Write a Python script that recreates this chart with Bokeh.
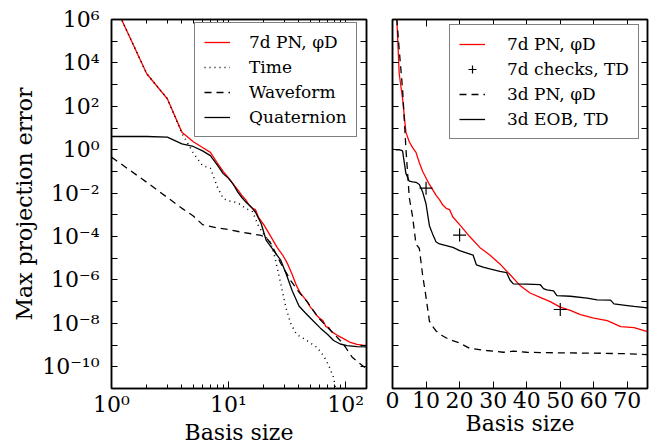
from bokeh.plotting import figure
from bokeh.models import (Range1d, FixedTicker, CustomJSTickFormatter, LogAxis,
                          LinearAxis, Legend, LegendItem)
from bokeh.core.properties import value
from bokeh.layouts import row
from bokeh.embed import file_html
from bokeh.resources import INLINE

# ---------------- data (log10 of the max projection error) ----------------
# 7d PN, phiD (shared by both panels)
x_7d = [1, 2, 3, 4, 5, 6, 7, 8, 9, 10, 11, 12, 13, 14, 15, 16, 17, 18, 20, 23,
        26, 29, 32, 35, 38, 41, 44, 47, 50, 53, 56, 60, 64, 68, 72, 76, 85, 96,
        110, 125, 140, 155]
log_7d = [7.0, 3.5, 2.35, 0.8, 0.37, 0.1, -0.12, -0.6, -1.0, -1.3, -1.6, -1.85,
          -2.1, -2.3, -2.55, -2.7, -2.76, -3.1, -3.45, -4.0, -4.5, -4.85, -5.26,
          -5.75, -6.25, -6.6, -6.8, -7.0, -7.25, -7.4, -7.6, -7.76, -7.87, -8.15,
          -8.2, -8.38, -8.55, -8.7, -8.88, -8.97, -9.0, -9.02]

# Time (left panel, dotted)
x_time = [1, 2, 3, 4, 5, 6, 7, 8, 9, 10, 12, 14, 16, 18, 20, 23, 25, 28, 31, 34,
          38, 47, 57, 65, 72, 79, 84]
log_time = [7.0, 3.5, 2.35, 0.75, -0.15, -0.73, -0.85, -1.7, -2.25, -2.35, -2.45,
            -2.7, -2.85, -3.5, -3.9, -4.3, -5.0, -6.2, -7.3, -8.0, -8.5, -8.8,
            -9.1, -9.5, -9.95, -10.5, -11.3]

# Waveform (left panel, dashed)
x_wave = [1, 2, 3, 4, 5, 6, 8, 10, 13, 16, 19, 21, 23, 26, 28, 31, 34, 38, 41,
          47, 53, 60, 70, 80, 90, 100, 114, 139, 155]
log_wave = [-0.34, -1.5, -2.2, -2.7, -3.05, -3.45, -3.6, -3.68, -3.8, -3.88,
            -3.95, -4.05, -4.32, -4.9, -5.24, -5.65, -6.03, -6.4, -6.63, -7.0,
            -7.41, -7.8, -8.18, -8.5, -8.79, -9.1, -9.56, -9.94, -10.15]

# Quaternion (left panel, solid)
x_quat = [1, 2, 3, 4, 5, 6, 7, 8, 9, 10, 11, 12, 13, 14, 16, 17, 19, 21, 24, 28,
          31, 35, 40, 45, 50, 61, 70, 79, 90, 103, 125, 155]
log_quat = [0.61, 0.61, 0.58, 0.27, 0.15, -0.05, -0.27, -0.7, -1.1, -1.32, -1.6,
            -1.95, -2.2, -2.4, -2.7, -2.88, -3.4, -4.18, -4.6, -5.1, -5.7, -6.5,
            -7.2, -7.5, -7.75, -8.22, -8.5, -8.79, -8.95, -9.02, -9.07, -9.08]

# 7d checks, TD (right panel, crosses)
x_chk = [10, 20, 50]
log_chk = [-1.77, -3.93, -7.36]

# 3d PN, phiD (right panel, dashed)
x_3pn = [1, 2, 3, 4, 5, 6, 7, 8, 9, 10, 11, 12, 13, 15, 17, 20, 23, 28, 33, 36,
         40, 50, 60, 70, 76]
log_3pn = [6.6, 4.6, 2.8, 0.05, -2.2, -3.1, -4.35, -4.55, -5.8, -6.8, -7.9,
           -8.15, -8.35, -8.58, -8.75, -8.9, -9.15, -9.25, -9.33, -9.28, -9.33,
           -9.36, -9.37, -9.4, -9.44]

# 3d EOB, TD (right panel, solid)
x_eob = [1, 2, 3, 4, 5, 6, 7, 8, 9, 10, 11, 12, 13, 14, 16, 18, 20, 22, 24, 25,
         27, 29, 32, 34, 35, 36, 40, 44, 45, 46, 48, 49, 53, 58, 61, 65, 66, 70,
         72, 76]
log_eob = [0.0, 0.0, -0.05, -1.1, -1.45, -1.48, -1.5, -1.6, -1.95, -2.5, -3.5,
           -3.9, -4.25, -4.34, -4.42, -4.5, -4.65, -4.75, -4.85, -5.3, -5.41,
           -5.49, -5.6, -5.66, -6.0, -6.18, -6.19, -6.21, -6.4, -6.46, -6.5,
           -6.72, -6.75, -6.84, -6.92, -6.93, -7.1, -7.18, -7.22, -7.29]

y_decades = list(range(-11, 7))
x_major_left = [1, 10, 100]
x_minor_left = [2, 3, 4, 5, 6, 7, 8, 9, 20, 30, 40, 50, 60, 70, 80, 90]
x_major_right = [0, 10, 20, 30, 40, 50, 60, 70]


def pw(v):
    return [10.0 ** a for a in v]


FONT = "DejaVu Serif"
SUP = """
const sup = {'0':'\u2070','1':'\u00b9','2':'\u00b2','3':'\u00b3','4':'\u2074',
             '5':'\u2075','6':'\u2076','7':'\u2077','8':'\u2078','9':'\u2079','-':'\u207b'};
const e = Math.round(Math.log10(tick));
%s
return '10' + String(e).split('').map(c => sup[c]).join('');
"""
fmt_y = CustomJSTickFormatter(code=SUP % "if (e % 2 != 0) { return ''; }")
fmt_x = CustomJSTickFormatter(code=SUP % "")
blank = CustomJSTickFormatter(code="return '';")

H = 448


def style_axis(ax, major_in, minor_in=0, labels=True, standoff=6):
    ax.axis_line_width = 1.5
    ax.axis_line_color = "black"
    ax.major_tick_in = major_in
    ax.major_tick_out = 0
    ax.minor_tick_in = minor_in
    ax.minor_tick_out = 0
    ax.major_tick_line_color = "black"
    ax.minor_tick_line_color = "black"
    ax.major_label_text_font = FONT
    ax.major_label_text_font_size = "22px"
    ax.major_label_text_color = "black"
    ax.axis_label_text_font = FONT
    ax.axis_label_text_font_size = "22px"
    ax.axis_label_text_font_style = "normal"
    ax.axis_label_text_color = "black"
    if labels:
        ax.major_label_standoff = standoff
    else:
        ax.formatter = blank
        ax.major_label_standoff = 0
        ax.axis_label_standoff = 0
        ax.major_label_text_font_size = "0px"


def base_fig(width, x_range, x_type, bl, br):
    p = figure(width=width, height=H, x_axis_type=x_type, y_axis_type="log",
               x_range=x_range, y_range=Range1d(1e-11, 1e6),
               output_backend="svg", toolbar_location=None,
               min_border_left=bl, min_border_right=br,
               min_border_top=19, min_border_bottom=H - 388)
    p.grid.visible = False
    p.outline_line_color = "black"
    p.outline_line_width = 1.5
    p.background_fill_color = "white"
    p.border_fill_color = "white"
    return p


def style_legend(items, loc, standoff=20):
    lg = Legend(items=items, location=loc)
    lg.border_line_color = "black"
    lg.border_line_width = 1.5
    lg.background_fill_color = "white"
    lg.background_fill_alpha = 1.0
    try:
        lg.label_text_font = value(FONT)
    except Exception:
        lg.label_text_font = FONT
    lg.label_text_font_size = "17px"
    lg.label_text_color = "black"
    lg.glyph_width = 26
    lg.glyph_height = 20
    lg.label_height = 20
    lg.label_standoff = standoff
    lg.spacing = 5
    lg.padding = 9
    lg.margin = 0
    return lg


# ---------------- left panel ----------------
p1 = base_fig(379, Range1d(1, 151), "log", 111, 13)
r_red = p1.line(x_7d, pw(log_7d), line_color="red", line_width=1.3)
r_time = p1.line(x_time, pw(log_time), line_color="black", line_width=1.5,
                 line_dash="1 4")
r_wave = p1.line(x_wave, pw(log_wave), line_color="black", line_width=1.3,
                 line_dash="7 5")
r_quat = p1.line(x_quat, pw(log_quat), line_color="black", line_width=1.3)

xt1 = FixedTicker(ticks=x_major_left, minor_ticks=x_minor_left)
yt = FixedTicker(ticks=[10.0 ** k for k in y_decades], minor_ticks=[])

p1.xaxis.ticker = xt1
p1.xaxis.formatter = fmt_x
p1.xaxis.axis_label = "Basis size"
p1.yaxis.ticker = yt
p1.yaxis.formatter = fmt_y
p1.yaxis.axis_label = "Max projection error"
for ax in p1.xaxis:
    style_axis(ax, 7, 4, standoff=3)
    ax.axis_label_standoff = 0
for ax in p1.yaxis:
    style_axis(ax, 6, 0, standoff=12)
    ax.axis_label_standoff = 2

top1 = LogAxis(ticker=xt1)
style_axis(top1, 7, 4, labels=False)
p1.add_layout(top1, "above")
right1 = LogAxis(ticker=yt)
style_axis(right1, 6, 0, labels=False)
p1.add_layout(right1, "right")

p1.add_layout(style_legend([
    LegendItem(label="7d PN, \u03c6D", renderers=[r_red]),
    LegendItem(label="Time", renderers=[r_time]),
    LegendItem(label="Waveform", renderers=[r_wave]),
    LegendItem(label="Quaternion", renderers=[r_quat]),
], (83, 251), standoff=19))

# ---------------- right panel ----------------
p2 = base_fig(277, Range1d(0, 76), "linear", 13, 9)
s_red = p2.line(x_7d, pw(log_7d), line_color="red", line_width=1.3)
s_chk = p2.scatter(x_chk, pw(log_chk), marker="cross", size=13,
                   line_color="black", line_width=1.2)
s_3pn = p2.line(x_3pn, pw(log_3pn), line_color="black", line_width=1.3,
                line_dash="7 5")
s_eob = p2.line(x_eob, pw(log_eob), line_color="black", line_width=1.3)

xt2 = FixedTicker(ticks=x_major_right, minor_ticks=[])
p2.xaxis.ticker = xt2
p2.xaxis.axis_label = "Basis size"
p2.yaxis.ticker = yt
for ax in p2.xaxis:
    style_axis(ax, 7, 0, standoff=3)
    ax.axis_label_standoff = 0
for ax in p2.yaxis:
    style_axis(ax, 6, 0, labels=False)

top2 = LinearAxis(ticker=xt2)
style_axis(top2, 7, 0, labels=False)
p2.add_layout(top2, "above")
right2 = LogAxis(ticker=yt)
style_axis(right2, 6, 0, labels=False)
p2.add_layout(right2, "right")

p2.add_layout(style_legend([
    LegendItem(label="7d PN, \u03c6D", renderers=[s_red]),
    LegendItem(label="7d checks, TD", renderers=[s_chk]),
    LegendItem(label="3d PN, \u03c6D", renderers=[s_3pn]),
    LegendItem(label="3d EOB, TD", renderers=[s_eob]),
], (57, 249), standoff=22))

layout = row(p1, p2)
open("out.html", "w").write(file_html(layout, INLINE))
